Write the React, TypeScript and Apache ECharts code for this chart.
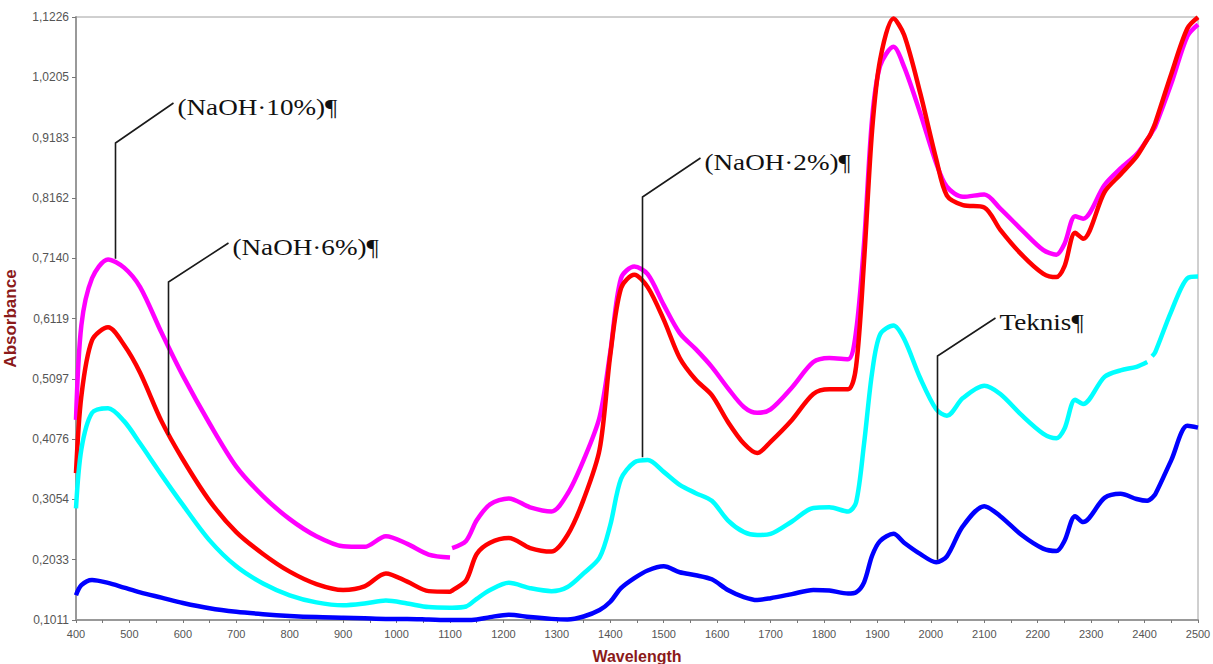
import React, { useEffect, useRef } from "react";
import * as echarts from "echarts";

// ---- data ----
const WAVELENGTHS = [
  400, 410, 430, 460, 490, 520, 560, 600, 650, 700,
  750, 800, 850, 900, 940, 980, 1020, 1060, 1100, 1102,
  1104, 1130, 1150, 1175, 1210, 1250, 1290, 1320, 1350, 1380,
  1400, 1420, 1445, 1470, 1500, 1530, 1560, 1590, 1620, 1650,
  1675, 1700, 1740, 1780, 1810, 1845, 1860, 1875, 1890, 1905,
  1930, 1950, 1980, 2010, 2030, 2060, 2100, 2130, 2170, 2210,
  2235, 2250, 2270, 2285, 2325, 2355, 2385, 2405, 2410, 2414,
  2420, 2450, 2480, 2500,
];

const NAOH_10 = [
  0.44, 0.60, 0.68, 0.712, 0.698, 0.665, 0.588, 0.515, 0.434, 0.361,
  0.311, 0.272, 0.243, 0.226, 0.225, 0.243, 0.230, 0.212, 0.207, null,
  0.223, 0.235, 0.27, 0.297, 0.307, 0.292, 0.285, 0.315, 0.372, 0.445,
  0.555, 0.68, 0.70, 0.687, 0.635, 0.587, 0.56, 0.53, 0.494, 0.462,
  0.452, 0.458, 0.495, 0.538, 0.545, 0.543, 0.59, 0.74, 0.95, 1.04,
  1.072, 1.038, 0.96, 0.875, 0.835, 0.818, 0.822, 0.798, 0.762, 0.728,
  0.72, 0.738, 0.785, 0.781, 0.838, 0.866, 0.89, 0.915, 0.922, 0.928,
  0.937, 1.01, 1.09, 1.11,
];

const NAOH_6 = [
  0.35, 0.48, 0.575, 0.597, 0.567, 0.52, 0.438, 0.373, 0.303, 0.25,
  0.213, 0.183, 0.162, 0.152, 0.158, 0.18, 0.166, 0.15, 0.149, 0.15,
  0.151, 0.168, 0.213, 0.232, 0.24, 0.223, 0.217, 0.245, 0.305, 0.39,
  0.55, 0.663, 0.686, 0.665, 0.61, 0.545, 0.508, 0.482, 0.437, 0.40,
  0.384, 0.403, 0.44, 0.484, 0.492, 0.492, 0.53, 0.71, 0.93, 1.05,
  1.12, 1.092, 0.994, 0.882, 0.82, 0.804, 0.80, 0.762, 0.72, 0.688,
  0.682, 0.70, 0.757, 0.747, 0.826, 0.856, 0.886, 0.915, 0.922, 0.93,
  0.943, 1.026, 1.103, 1.122,
];

const NAOH_2 = [
  0.29, 0.39, 0.452, 0.46, 0.438, 0.40, 0.347, 0.296, 0.236, 0.192,
  0.163, 0.143, 0.131, 0.126, 0.129, 0.134, 0.129, 0.123, 0.122, 0.122,
  0.122, 0.124, 0.137, 0.152, 0.164, 0.155, 0.15, 0.157, 0.18, 0.207,
  0.262, 0.34, 0.368, 0.372, 0.352, 0.33, 0.316, 0.303, 0.27, 0.25,
  0.245, 0.247, 0.268, 0.291, 0.292, 0.285, 0.30, 0.40, 0.52, 0.585,
  0.60, 0.577, 0.511, 0.458, 0.447, 0.477, 0.498, 0.484, 0.448, 0.417,
  0.409, 0.425, 0.474, 0.467, 0.513, 0.524, 0.53, 0.538, null, 0.548,
  0.555, 0.624, 0.68, 0.683,
];

const TEKNIS = [
  0.143, 0.16, 0.169, 0.164, 0.156, 0.148, 0.139, 0.13, 0.121, 0.115,
  0.111, 0.108, 0.106, 0.105, 0.104, 0.103, 0.103, 0.102, 0.101, 0.101,
  0.101, 0.101, 0.102, 0.106, 0.11, 0.106, 0.103, 0.102, 0.107, 0.118,
  0.132, 0.155, 0.172, 0.185, 0.192, 0.182, 0.177, 0.17, 0.152, 0.14,
  0.135, 0.138, 0.145, 0.152, 0.151, 0.146, 0.148, 0.165, 0.21, 0.235,
  0.247, 0.232, 0.213, 0.199, 0.209, 0.26, 0.294, 0.277, 0.245, 0.222,
  0.218, 0.235, 0.277, 0.267, 0.308, 0.315, 0.306, 0.303, 0.305, 0.308,
  0.314, 0.372, 0.43, 0.427,
];

const SERIES_NAMES = ["(NaOH 10%)", "(NaOH 6%)", "(NaOH 2%)", "Teknis"];
const SERIES_COLORS = ["#ff00ff", "#ff0000", "#00ffff", "#0000ff"];

const Y_MIN = 0.1011;
const Y_MAX = 1.1226;
const Y_TICK_LABELS = [
  "0,1011", "0,2033", "0,3054", "0,4076", "0,5097", "0,6119",
  "0,7140", "0,8162", "0,9183", "1,0205", "1,1226",
];
const X_MIN = 400;
const X_MAX = 2500;

// annotation texts and the data point each leader line points at
const NOTE_TEXTS = ["(NaOH·10%)¶", "(NaOH·6%)¶", "(NaOH·2%)¶", "Teknis¶"];
const NOTE_WAVELENGTHS = [473, 572, 1459, 2011];
const NOTE_VALUES = [0.713, 0.414, 0.377, 0.203];
// layout of the leader lines (pixels)
const NOTE_ELBOW_Y = [143, 282, 197, 356];
const NOTE_DIAG = [[58, -40], [60, -39], [58, -39], [58, -38]];
const NOTE_TEXT_GAP = 4;

export default function App() {
  const ref = useRef<HTMLDivElement>(null);

  useEffect(() => {
    document.body.style.margin = "0";
    if (!ref.current) return;
    const chart = echarts.init(ref.current, null, { renderer: "svg" });
    const interval = (Y_MAX - Y_MIN) / 10;
    const valueSets = [NAOH_10, NAOH_6, NAOH_2, TEKNIS];

    chart.setOption({
      animation: false,
      backgroundColor: "#ffffff",
      grid: {
        left: 76,
        right: 15,
        top: 17,
        bottom: 44,
        show: true,
        containLabel: false,
        outerBoundsMode: "none",
        borderColor: "#a0a0a0",
        borderWidth: 1,
      },
      xAxis: {
        type: "value",
        min: X_MIN,
        max: X_MAX,
        interval: 100,
        name: "Wavelength",
        nameLocation: "middle",
        nameGap: 28,
        nameTextStyle: {
          color: "#8b1a1a",
          fontWeight: "bold",
          fontSize: 16,
          fontFamily: "Liberation Sans, Arial, sans-serif",
        },
        axisLine: { show: true, lineStyle: { color: "#999999", width: 2 } },
        axisTick: { show: true, length: 3, lineStyle: { color: "#777777" } },
        minorTick: { show: true, splitNumber: 2, length: 3, lineStyle: { color: "#777777" } },
        splitLine: { show: false },
        axisLabel: {
          color: "#555555",
          fontSize: 11,
          margin: 8,
          fontFamily: "Liberation Sans, Arial, sans-serif",
          formatter: (v: number) => String(Math.round(v)),
        },
      },
      yAxis: {
        type: "value",
        min: Y_MIN,
        max: Y_MAX,
        interval: interval,
        name: "Absorbance",
        nameLocation: "middle",
        nameGap: 57,
        nameTextStyle: {
          color: "#8b1a1a",
          fontWeight: "bold",
          fontSize: 17,
          fontFamily: "Liberation Sans, Arial, sans-serif",
        },
        axisLine: { show: true, lineStyle: { color: "#999999", width: 2 } },
        axisTick: { show: true, length: 4, lineStyle: { color: "#777777" } },
        splitLine: { show: false },
        axisLabel: {
          color: "#555555",
          fontSize: 12,
          margin: 7,
          fontFamily: "Liberation Sans, Arial, sans-serif",
          formatter: (v: number) =>
            Y_TICK_LABELS[Math.round((v - Y_MIN) / interval)] ?? "",
        },
      },
      series: valueSets.map((vals, i) => ({
        type: "line",
        name: SERIES_NAMES[i],
        data: WAVELENGTHS.map((w, k) => [w, vals[k] === null ? "-" : vals[k]]),
        showSymbol: false,
        symbol: "none",
        smooth: 0.3,
        connectNulls: false,
        clip: false,
        lineStyle: { color: SERIES_COLORS[i], width: 4.5 },
        z: 2 + i,
      })),
    });

    const graphics: any[] = [];
    NOTE_TEXTS.forEach((t, i) => {
      const p = chart.convertToPixel({ gridIndex: 0 }, [NOTE_WAVELENGTHS[i], NOTE_VALUES[i]]) as number[];
      const ax = Math.round(p[0]) + 0.5;
      const ay = p[1];
      const ey = NOTE_ELBOW_Y[i];
      const endX = ax + NOTE_DIAG[i][0];
      const endY = ey + NOTE_DIAG[i][1];
      graphics.push({
        type: "polyline",
        shape: { points: [[ax, ay], [ax, ey], [endX, endY]] },
        style: { stroke: "#1a1a1a", lineWidth: 1.6, fill: null },
        z: 100,
      });
      graphics.push({
        type: "text",
        x: endX + NOTE_TEXT_GAP,
        y: endY + 4,
        scaleX: 1.18,
        style: {
          text: t,
          fontSize: 23,
          fontFamily: "Liberation Serif, Times New Roman, serif",
          fill: "#111111",
          verticalAlign: "middle",
          align: "left",
        },
        z: 100,
      });
    });
    chart.setOption({ graphic: graphics });

    return () => chart.dispose();
  }, []);

  return <div ref={ref} style={{ width: 1213, height: 664 }} />;
}
